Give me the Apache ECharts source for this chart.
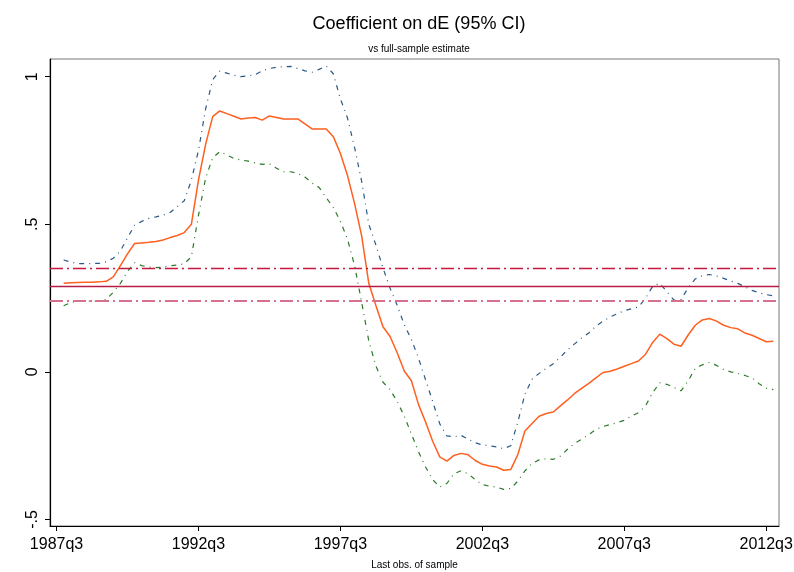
<!DOCTYPE html>
<html>
<head>
<meta charset="utf-8">
<script src="https://cdn.jsdelivr.net/npm/echarts@6/dist/echarts.min.js"></script>
<style>html,body{margin:0;padding:0;background:#fff}#c{width:794px;height:572px}</style>
</head>
<body>
<div id="c"></div>
<script>
// quarter index: 0 = 1987q3 ; data run 1987q4 (1) .. 2012q4 (101)
const firstIdx = 1;
const tickIdx = [0, 20, 40, 60, 80, 100];
const tickLabels = ['1987q3', '1992q3', '1997q3', '2002q3', '2007q3', '2012q3'];
const yTicks = [-0.5, 0, 0.5, 1];
const yTickLabels = ['-.5', '0', '.5', '1'];

const estimate = [
  0.300, 0.302, 0.303, 0.304, 0.304, 0.305, 0.307, 0.322, 0.360, 0.400,
  0.435, 0.437, 0.439, 0.442, 0.447, 0.455, 0.462, 0.472, 0.500, 0.650,
  0.770, 0.865, 0.884, 0.875, 0.866, 0.857, 0.860, 0.862, 0.853, 0.867,
  0.862, 0.857, 0.857, 0.857, 0.840, 0.823, 0.823, 0.823, 0.797, 0.740,
  0.665, 0.570, 0.460, 0.300, 0.225, 0.153, 0.120, 0.065, 0.003, -0.030,
  -0.110, -0.170, -0.235, -0.288, -0.302, -0.283, -0.276, -0.281, -0.300, -0.313,
  -0.319, -0.322, -0.333, -0.331, -0.280, -0.200, -0.175, -0.150, -0.141, -0.136,
  -0.115, -0.095, -0.073, -0.056, -0.039, -0.020, -0.002, 0.002, 0.010, 0.019,
  0.028, 0.037, 0.060, 0.100, 0.128, 0.113, 0.094, 0.087, 0.125, 0.158,
  0.176, 0.181, 0.172, 0.158, 0.150, 0.146, 0.132, 0.124, 0.113, 0.102,
  0.104
];
const upperCI = [
  0.379, 0.372, 0.367, 0.367, 0.367, 0.368, 0.373, 0.385, 0.410, 0.454,
  0.497, 0.510, 0.520, 0.525, 0.531, 0.540, 0.560, 0.580, 0.650, 0.750,
  0.890, 0.990, 1.019, 1.012, 1.005, 1.000, 1.003, 1.007, 1.020, 1.028,
  1.032, 1.034, 1.035, 1.028, 1.020, 1.015, 1.025, 1.036, 1.010, 0.925,
  0.860, 0.760, 0.645, 0.500, 0.430, 0.352, 0.283, 0.226, 0.160, 0.110,
  0.047, -0.027, -0.100, -0.176, -0.217, -0.220, -0.215, -0.228, -0.240, -0.247,
  -0.250, -0.254, -0.260, -0.250, -0.170, -0.075, -0.025, -0.005, 0.012, 0.028,
  0.050, 0.075, 0.095, 0.115, 0.132, 0.155, 0.172, 0.186, 0.197, 0.207,
  0.214, 0.220, 0.250, 0.290, 0.300, 0.272, 0.243, 0.245, 0.285, 0.315,
  0.326, 0.330, 0.325, 0.317, 0.308, 0.300, 0.288, 0.276, 0.268, 0.262,
  0.258
];
const lowerCI = [
  0.224, 0.235, 0.240, 0.240, 0.240, 0.240, 0.245, 0.270, 0.300, 0.340,
  0.370, 0.360, 0.355, 0.353, 0.355, 0.360, 0.362, 0.366, 0.390, 0.530,
  0.656, 0.725, 0.746, 0.735, 0.723, 0.718, 0.714, 0.708, 0.703, 0.705,
  0.690, 0.678, 0.678, 0.672, 0.660, 0.640, 0.625, 0.590, 0.557, 0.510,
  0.450, 0.360, 0.235, 0.105, 0.020, -0.035, -0.060, -0.100, -0.150, -0.210,
  -0.270, -0.322, -0.365, -0.390, -0.378, -0.345, -0.335, -0.345, -0.365, -0.382,
  -0.387, -0.390, -0.398, -0.395, -0.370, -0.335, -0.310, -0.298, -0.294, -0.296,
  -0.285, -0.262, -0.242, -0.228, -0.212, -0.195, -0.185, -0.178, -0.172, -0.164,
  -0.150, -0.138, -0.115, -0.070, -0.037, -0.042, -0.053, -0.064, -0.030, 0.012,
  0.024, 0.032, 0.022, 0.008, 0.000, -0.005, -0.012, -0.020, -0.040, -0.055,
  -0.060
];
const fullSample = 0.293;
const fullUpper = 0.346;
const fullLower = 0.241;

const toPairs = arr => arr.map((v, k) => [firstIdx + k, v]);
const FONT = '"Liberation Sans", Arial, sans-serif';

const chart = echarts.init(document.getElementById('c'), null, {renderer: 'canvas'});
chart.setOption({
  animation: false,
  backgroundColor: '#fff',
  title: [
    {text: 'Coefficient on dE (95% CI)', left: 414, top: 10, textAlign: 'center',
     textStyle: {fontFamily: FONT, fontSize: 18, fontWeight: 'normal', color: '#000'}},
    {text: 'vs full-sample estimate', left: 414, top: 39, textAlign: 'center',
     textStyle: {fontFamily: FONT, fontSize: 10, fontWeight: 'normal', color: '#000'}}
  ],
  grid: {left: 50, right: 15, top: 59, bottom: 46, show: true, borderColor: '#777', borderWidth: 1,
         containLabel: false, outerBoundsMode: 'none'},
  xAxis: {
    type: 'value', min: -0.92, max: 101.8,
    name: 'Last obs. of sample', nameLocation: 'middle', nameGap: 34,
    nameTextStyle: {fontFamily: FONT, fontSize: 10, color: '#000'},
    axisLine: {show: true, onZero: false, lineStyle: {color: '#000', width: 1.2}},
    axisTick: {show: true, length: 5, customValues: tickIdx, lineStyle: {color: '#000'}},
    axisLabel: {customValues: tickIdx, margin: 11, fontFamily: FONT, fontSize: 16, color: '#000',
      formatter: v => tickLabels[tickIdx.indexOf(Math.round(v))] || ''},
    splitLine: {show: false}
  },
  yAxis: {
    type: 'value', min: -0.522, max: 1.06,
    axisLine: {show: true, onZero: false, lineStyle: {color: '#000', width: 1.2}},
    axisTick: {show: true, length: 5, customValues: yTicks, lineStyle: {color: '#000'}},
    axisLabel: {customValues: yTicks, rotate: 90, margin: 9, fontFamily: FONT, fontSize: 16, color: '#000',
      formatter: v => yTickLabels[yTicks.findIndex(t => Math.abs(t - v) < 1e-6)] || ''},
    splitLine: {show: false}
  },
  series: [
    {type: 'line', name: 'full', data: [], silent: true,
     markLine: {symbol: 'none', silent: true, label: {show: false},
       data: [
         {yAxis: fullUpper, lineStyle: {color: '#c8173f', width: 1.3, type: [13, 4, 2, 4]}},
         {yAxis: fullSample, lineStyle: {color: '#b81c45', width: 1.3, type: 'solid'}},
         {yAxis: fullLower, lineStyle: {color: '#d6708c', width: 2, type: [13, 4, 2, 4]}}
       ]}},
    {type: 'line', name: 'upper', data: toPairs(upperCI), showSymbol: false, symbol: 'none',
     lineStyle: {color: '#2b5a87', width: 1.2, type: [5, 5, 1, 5]}},
    {type: 'line', name: 'lower', data: toPairs(lowerCI), showSymbol: false, symbol: 'none',
     lineStyle: {color: '#2e7a2a', width: 1.2, type: [5, 5, 1, 5]}},
    {type: 'line', name: 'estimate', data: toPairs(estimate), showSymbol: false, symbol: 'none',
     lineStyle: {color: '#ff5f1f', width: 1.5}}
  ]
});
</script>
</body>
</html>
